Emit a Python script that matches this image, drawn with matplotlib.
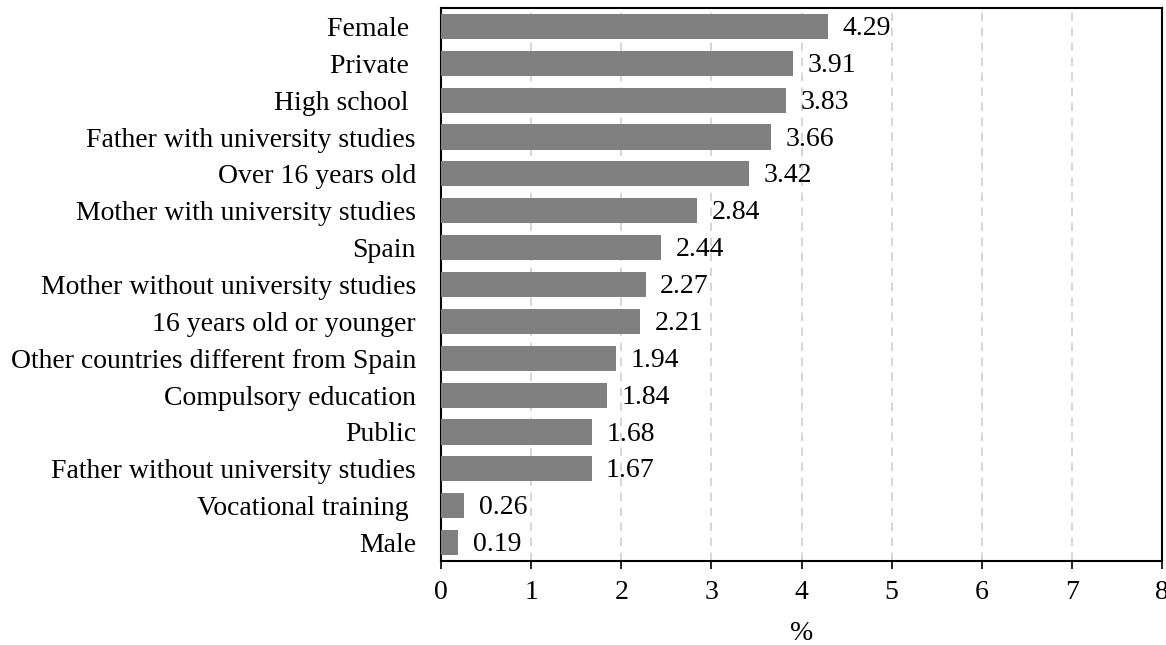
import matplotlib
matplotlib.use("Agg")
import matplotlib.pyplot as plt

categories = [
    "Female ", "Private ", "High school ", "Father with university studies",
    "Over 16 years old", "Mother with university studies", "Spain",
    "Mother without university studies", "16 years old or younger",
    "Other countries different from Spain", "Compulsory education", "Public",
    "Father without university studies", "Vocational training ", "Male",
]
values = [4.29, 3.91, 3.83, 3.66, 3.42, 2.84, 2.44, 2.27, 2.21, 1.94, 1.84,
          1.68, 1.67, 0.26, 0.19]
x_ticks = [0, 1, 2, 3, 4, 5, 6, 7, 8]

plt.rcParams["font.family"] = ["Liberation Serif", "DejaVu Serif"]
FS = 20

fig = plt.figure(figsize=(11.66, 6.45), dpi=100)
ax = fig.add_axes([441 / 1166, 1 - 561 / 645, (1162 - 441) / 1166, (561 - 8) / 645])

pos = list(range(len(categories)))
ax.barh(pos, values, height=0.68, color="#808080", zorder=3)
for p, v in zip(pos, values):
    ax.annotate(f"{v:.2f}", xy=(v, p), xytext=(10.5, -1.5), textcoords="offset points",
                va="center", ha="left", fontsize=FS, zorder=4)

ax.set_ylim(len(categories) - 0.5, -0.5)
ax.set_yticks(pos)
ax.set_yticklabels(categories, fontsize=FS)
ax.tick_params(axis="y", length=0, pad=18)

ax.set_xlim(0, 8)
ax.set_xticks(x_ticks)
ax.set_xticklabels([str(t) for t in x_ticks], fontsize=FS)
ax.tick_params(axis="x", direction="out", length=6, width=1.2, pad=8)
ax.xaxis.grid(True, linestyle=(0, (5, 4)), color="#d0d0d0", linewidth=1.2, zorder=0)
ax.set_xlabel("%", fontsize=FS, labelpad=11)

for s in ax.spines.values():
    s.set_linewidth(1.5)
    s.set_color("black")

fig.savefig("out.png", dpi=100)
